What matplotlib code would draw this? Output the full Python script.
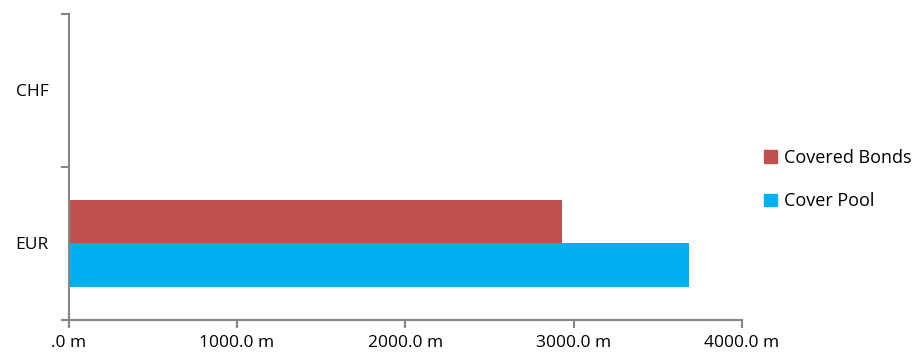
import matplotlib
matplotlib.use("Agg")
import matplotlib.pyplot as plt
from matplotlib.patches import Patch
import numpy as np

categories = ["EUR", "CHF"]
covered_bonds = [2929, 0]
cover_pool = [3685, 0]
series_names = ["Covered Bonds", "Cover Pool"]
x_ticks = [0, 1000, 2000, 3000, 4000]
x_tick_labels = [".0 m", "1000.0 m", "2000.0 m", "3000.0 m", "4000.0 m"]

plt.rcParams['font.family'] = ['Open Sans', 'DejaVu Sans']

red = "#C0504D"
blue = "#00B0F0"
axis_col = "#868686"
fs = 12.5

fig = plt.figure(figsize=(9.21, 3.60), dpi=100)
ax = fig.add_axes([68.5/921, 1-320/360, (742-68.5)/921, (320-13.5)/360])

y = np.arange(len(categories))
h = 0.284
ax.barh(y + h/2, covered_bonds, height=h, color=red, label=series_names[0])
ax.barh(y - h/2, cover_pool, height=h, color=blue, label=series_names[1])

ax.set_xlim(0, 4000)
ax.set_ylim(-0.5, 1.5)
ax.set_xticks(x_ticks)
ax.set_xticklabels(x_tick_labels, fontsize=fs)
ax.set_yticks(y)
ax.set_yticklabels(categories, fontsize=fs)
ax.set_yticks([-0.5, 0.5, 1.5], minor=True)
ax.tick_params(axis='y', which='major', length=0, pad=14.5)
ax.tick_params(axis='y', which='minor', length=6, width=1.5, color=axis_col)
ax.tick_params(axis='x', length=6, width=1.5, color=axis_col, pad=5)
for s in ['top', 'right']:
    ax.spines[s].set_visible(False)
for s in ['left', 'bottom']:
    ax.spines[s].set_color(axis_col)
    ax.spines[s].set_linewidth(1.5)

handles = [Patch(color=red), Patch(color=blue)]
fig.legend(handles, series_names, loc='center left', bbox_to_anchor=(0.812, 0.501),
           frameon=False, fontsize=13, handlelength=0.7, handleheight=0.7,
           handletextpad=0.4, labelspacing=1.4)

fig.savefig("out.png", dpi=100)
